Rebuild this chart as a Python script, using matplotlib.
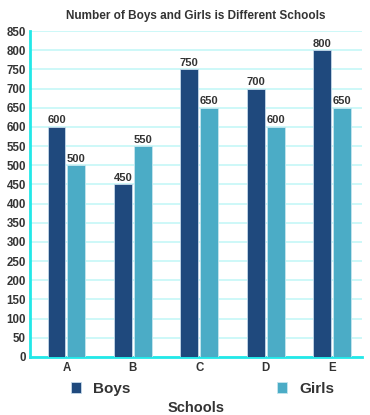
import matplotlib
matplotlib.use("Agg")
import matplotlib.pyplot as plt
import numpy as np

categories = ["A", "B", "C", "D", "E"]
boys = [600, 450, 750, 700, 800]
girls = [500, 550, 650, 600, 650]
yticks = list(range(0, 851, 50))

plt.rcParams['font.family'] = ['Liberation Sans', 'DejaVu Sans']
text_color = "#333333"

fig = plt.figure(figsize=(3.7, 4.15), dpi=100)
ax = fig.add_axes([0.081, 0.140, 0.897, 0.785])

x = np.arange(len(categories))
w = 0.27
gap = 0.015
b1 = ax.bar(x - w/2 - gap, boys, w, color="#1f497d", edgecolor="#c6d9ea", linewidth=0.6, label="Boys", zorder=3)
b2 = ax.bar(x + w/2 + gap, girls, w, color="#4bacc6", edgecolor="#c6e6ef", linewidth=0.6, label="Girls", zorder=3)

for bars, vals in ((b1, boys), (b2, girls)):
    for r, v in zip(bars, vals):
        ax.text(r.get_x() + r.get_width()/2, v + 4, str(v), ha="center", va="bottom",
                fontsize=8, fontweight="bold", color=text_color, zorder=4)

ax.set_xlim(-0.55, 4.45)
ax.set_ylim(0, 850)
ax.set_yticks(yticks)
ax.set_xticks(x)
ax.set_xticklabels(categories)
ax.tick_params(axis="both", length=0, labelsize=8.3, colors=text_color)
for lbl in ax.get_xticklabels() + ax.get_yticklabels():
    lbl.set_fontweight("bold")
ax.tick_params(axis="y", pad=3)
ax.tick_params(axis="x", pad=4)
ax.yaxis.grid(True, color="#c5f7f7", linewidth=1.2, zorder=0)
ax.set_axisbelow(True)
for s in ("top", "right"):
    ax.spines[s].set_visible(False)
ax.spines["left"].set_color("#22e8e8")
ax.spines["left"].set_linewidth(2)
ax.spines["bottom"].set_color("#22e8e8")
ax.spines["bottom"].set_linewidth(2)

ax.set_title("Number of Boys and Girls is Different Schools", fontsize=8.5,
             fontweight="bold", color=text_color, pad=9)

leg = ax.legend(loc="center", bbox_to_anchor=(0.521, -0.098), ncol=2, frameon=False,
                prop={"size": 11, "weight": "bold"}, labelcolor=text_color,
                handlelength=0.65, handleheight=0.65, handletextpad=0.8, columnspacing=9.6)
ax.set_xlabel("Schools", fontsize=10.5, fontweight="bold", color=text_color, labelpad=19)

fig.savefig("out.png", dpi=100)
